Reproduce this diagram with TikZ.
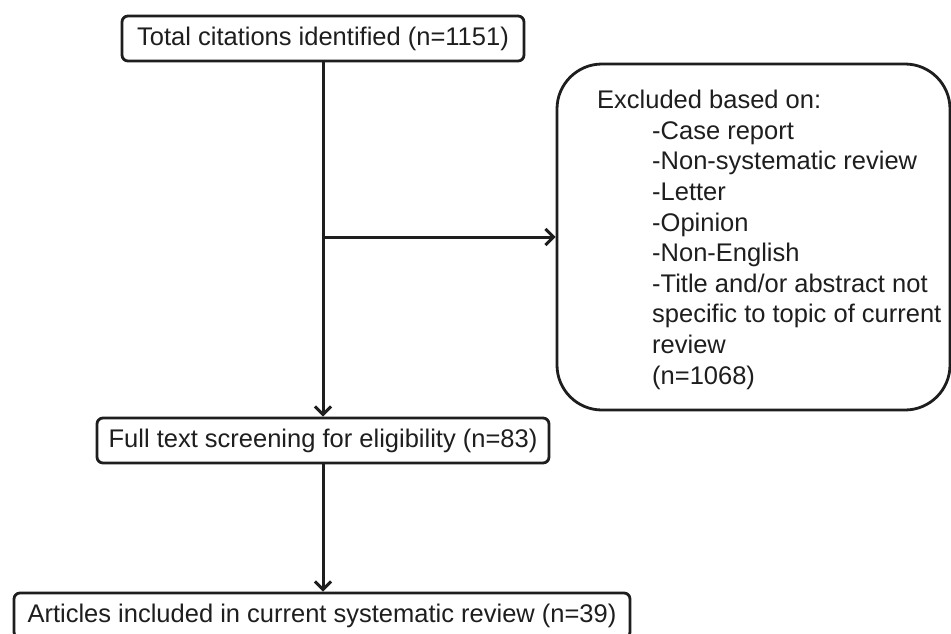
\documentclass[tikz,border=0pt]{standalone}
\usepackage{fontspec}
\setmainfont{Liberation Sans}
\usetikzlibrary{arrows.meta}
\definecolor{ink}{HTML}{1E1E1E}
\tikzset{
  box/.style={draw=ink, line width=2.8pt, rounded corners=6pt, minimum height=45pt,
    inner sep=0pt, text=ink, font=\fontsize{25.5}{30.6}\selectfont},
  bigbox/.style={draw=ink, line width=2.8pt, rounded corners=45pt, inner sep=0pt},
  boxtext/.style={text=ink, inner sep=0pt, align=left, font=\fontsize{25.5}{30.6}\selectfont},
  conn/.style={draw=ink, line width=3pt, -{Straight Barb[length=8pt,width=16pt]}}
}
\begin{document}
\begin{tikzpicture}[x=1pt,y=-1pt]
\useasboundingbox[fill=white] (0,0) rectangle (951,633);
\node[box, minimum width=402pt] (total) at (323,38.5) {Total citations identified (n=1151)};
\node[box, minimum width=452pt] (full) at (323,440.5) {Full text screening for eligibility (n=83)};
\node[box, minimum width=616pt] (art) at (322,615.5) {Articles included in current systematic review (n=39)};
\node[bigbox, minimum width=393pt, minimum height=346pt] (excl) at (753.5,237) {};
\node[boxtext, anchor=north west] (excltext) at (597,90) {Excluded based on:\\
\hspace*{55pt}-Case report\\
\hspace*{55pt}-Non-systematic review\\
\hspace*{55pt}-Letter\\
\hspace*{55pt}-Opinion\\
\hspace*{55pt}-Non-English\\
\hspace*{55pt}-Title and/or abstract not\\
\hspace*{55pt}specific to topic of current\\
\hspace*{55pt}review\\
\hspace*{55pt}(n=1068)};
\coordinate (split) at (323,237);
\draw[conn] (total.south) -- (full.north);
\draw[conn] (split) -- (excl.west);
\draw[conn] (full.south) -- (full.south |- art.north);
\end{tikzpicture}
\end{document}
